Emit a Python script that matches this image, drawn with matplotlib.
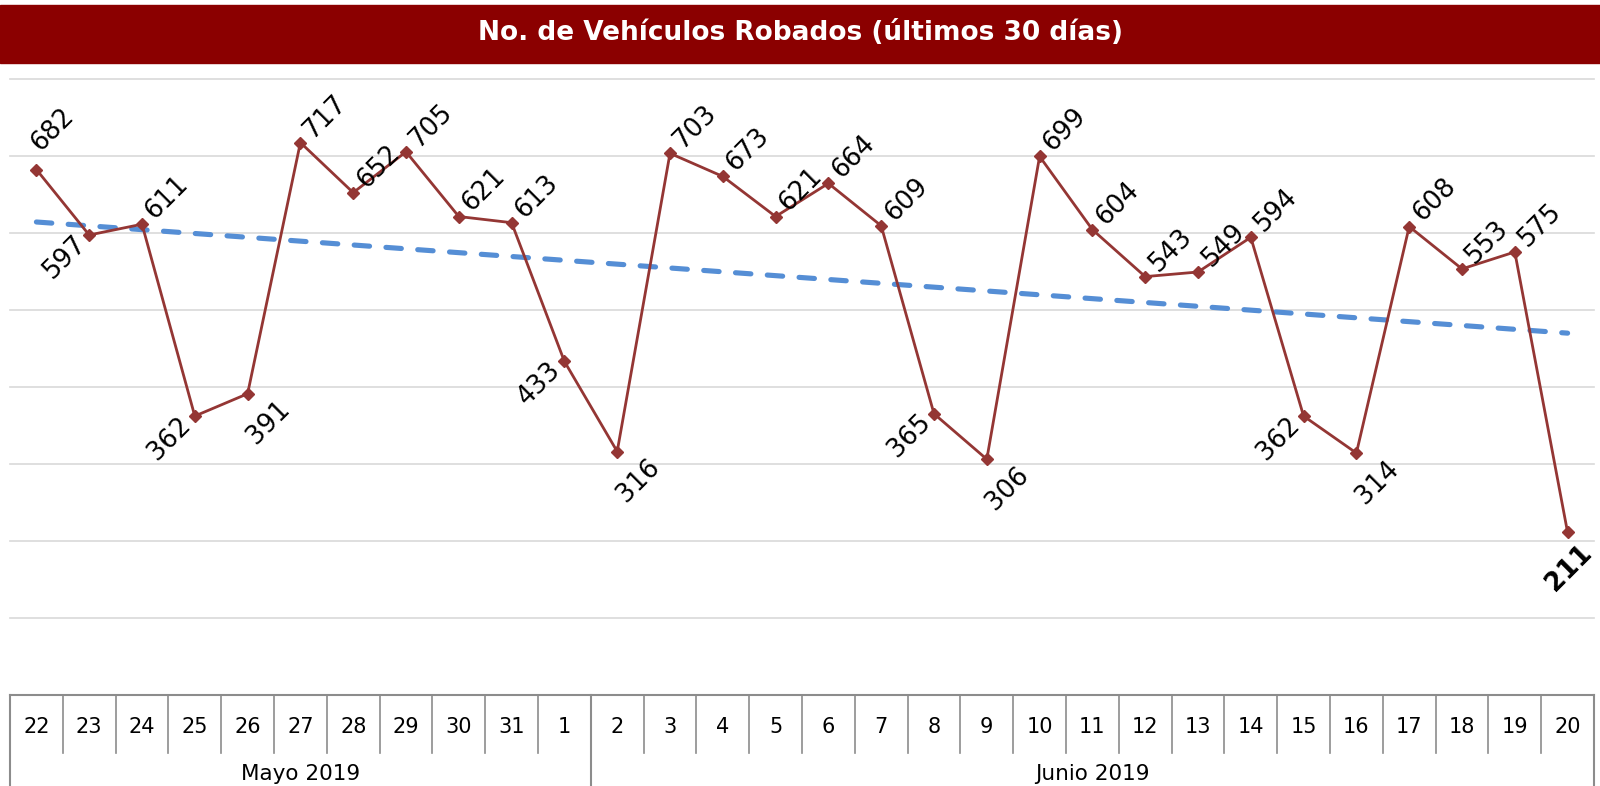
import matplotlib.pyplot as plt
import numpy as np
from matplotlib.patches import Rectangle

# data
days = ['22', '23', '24', '25', '26', '27', '28', '29', '30', '31', '1',
        '2', '3', '4', '5', '6', '7', '8', '9', '10', '11', '12', '13', '14',
        '15', '16', '17', '18', '19', '20']
robados = [682, 597, 611, 362, 391, 717, 652, 705, 621, 613, 433,
           316, 703, 673, 621, 664, 609, 365, 306, 699, 604, 543, 549, 594,
           362, 314, 608, 553, 575, 211]
months = ['Mayo 2019', 'Junio 2019']
month_sizes = [11, 19]

# where each data label sits: a = above, l = below-left, r = below-right
label_pos = ['A', 'l', 'a', 'l', 'r', 'a', 'a', 'a', 'a', 'a', 'l',
             'r', 'a', 'a', 'a', 'a', 'a', 'l', 'r', 'a', 'a', 'a', 'a', 'a',
             'l', 'r', 'a', 'a', 'a', 'b']

title = 'No. de Vehículos Robados (últimos 30 días)'

plt.rcParams['font.family'] = ['DejaVu Sans']

LINE = '#943634'
TREND = '#558ED5'
GRID = '#D9D9D9'
BORDER = '#8C8C8C'

W, H = 1600, 786
fig = plt.figure(figsize=(W / 100, H / 100), dpi=100)

# title bar
fig.patches.append(Rectangle((0, 1 - 63 / H), 1, 58 / H, transform=fig.transFigure,
                             color='#8B0000', zorder=0))
fig.text(0.5, 1 - 33 / H, title, color='white', fontsize=19, fontweight='bold',
         ha='center', va='center')

left, right = 10 / W, 1594 / W
ax = fig.add_axes([left, 1 - 695 / H, right - left, (695 - 78.6) / H])
x = np.arange(len(robados))
ax.set_xlim(-0.5, len(robados) - 0.5)
ax.set_ylim(0, 800)

for gy in range(100, 900, 100):
    ax.axhline(gy, color=GRID, lw=1.2, zorder=0, clip_on=False)

# linear trend
m, b = np.polyfit(x, robados, 1)
ax.plot(x, m * x + b, color=TREND, lw=3.7, ls=(0, (3.0, 3.2)), zorder=2,
        dash_capstyle='round')

ax.plot(x, robados, color=LINE, lw=2, marker='D', ms=6.5, zorder=3)

offsets = {'a': (18, 19), 'A': (12, 29), 'l': (-18, -16), 'r': (15, -21), 'b': (1, -26)}
for xi, v, p in zip(x, robados, label_pos):
    dx, dy = offsets[p]
    ax.annotate(str(v), (xi, v), xytext=(dx, dy), textcoords='offset points',
                rotation=45, rotation_mode='anchor', ha='center', va='center',
                fontsize=18.5, fontweight='bold' if p == 'b' else 'normal',
                annotation_clip=False, zorder=4)

ax.axis('off')

# category table under the chart
tab = fig.add_axes([left, 0, right - left, (H - 695) / H])
tab.set_xlim(-0.5, len(robados) - 0.5)
tab.set_ylim(0, H - 695)
tab.axis('off')
top = H - 695
row = H - 753
tab.plot([-0.5, len(robados) - 0.5], [top, top], color=BORDER, lw=1.5, clip_on=False)
for i in range(1, len(days)):
    tab.plot([i - 0.5, i - 0.5], [row, top], color=BORDER, lw=1.2)
for i, d in enumerate(days):
    tab.text(i, 59, d, ha='center', va='center', fontsize=15)

start = 0
edges = [-0.5]
for name, n in zip(months, month_sizes):
    tab.text(start + (n - 1) / 2, 12, name, ha='center', va='center', fontsize=15.5)
    start += n
    edges.append(start - 0.5)
for e in edges:
    tab.plot([e, e], [0, top], color=BORDER, lw=1.5, clip_on=False)

fig.savefig('out.png', dpi=100)
